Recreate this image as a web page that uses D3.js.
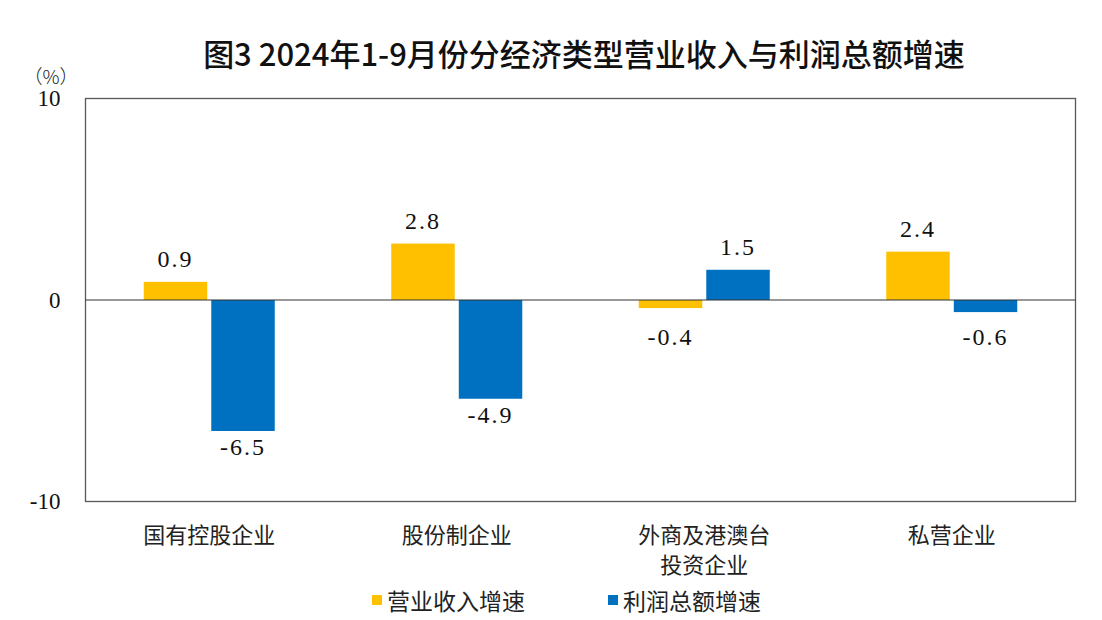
<!DOCTYPE html>
<html>
<head>
<meta charset="utf-8">
<script src="https://cdn.jsdelivr.net/npm/d3@7"></script>
<style>
html,body{margin:0;padding:0;background:#fff;}
svg{display:block;}
</style>
</head>
<body>
<svg id="chart" width="1102" height="620"></svg>
<script>
const title = "图3 2024年1-9月份分经济类型营业收入与利润总额增速";
const unitLabel = "（%）";
const categories = [["国有控股企业"], ["股份制企业"], ["外商及港澳台", "投资企业"], ["私营企业"]];
const seriesNames = ["营业收入增速", "利润总额增速"];
const revenueGrowth = [0.9, 2.8, -0.4, 2.4];
const profitGrowth = [-6.5, -4.9, 1.5, -0.6];
const yTicks = [-10, 0, 10];
const colors = ["#FFC000", "#0070C0"];

const svg = d3.select("#chart");
const L = 85.5, R = 1075.5, T = 98.5, B = 501.5;
const serif = "'Liberation Serif','Times New Roman',serif";
const cjk = "'Noto Sans CJK SC','Noto Sans',sans-serif";
const hyphen = s => s.replace(/\u2212/g, "-");

const catKeys = categories.map(c => c.join(""));
const x0 = d3.scaleBand().domain(catKeys).range([L, R]).padding(0);
const x1 = d3.scaleBand().domain(seriesNames).range([-65.5, 65.5]).paddingInner(0.06).paddingOuter(0);
const y = d3.scaleLinear().domain([-10, 10]).range([B, T]);

// title
svg.append("text").attr("x", 584).attr("y", 52)
  .attr("text-anchor", "middle").attr("dominant-baseline", "central")
  .style("font-family", cjk).style("font-size", "31px").style("font-weight", 500)
  .attr("fill", "#111").text(title);

// unit
svg.append("text").attr("x", 51).attr("y", 75)
  .attr("text-anchor", "middle").attr("dominant-baseline", "central")
  .style("font-family", cjk).style("font-size", "19px").style("font-weight", 300)
  .attr("fill", "#222")
  .text(unitLabel);

// frame
svg.append("rect").attr("x", L).attr("y", T).attr("width", R - L).attr("height", B - T)
  .attr("fill", "none").attr("stroke", "#595959").attr("stroke-width", 1.3);

// y axis labels
const yAxis = d3.axisLeft(y).tickValues(yTicks).tickSize(0).tickPadding(25)
  .tickFormat(d => hyphen(d3.format("d")(d)));
const gy = svg.append("g").attr("transform", `translate(${L},0)`).call(yAxis);
gy.select(".domain").remove();
gy.selectAll("text").style("font-family", serif).style("font-size", "23px").attr("fill", "#111");

// bars
const rows = catKeys.map((k, i) => ({ key: k, vals: [revenueGrowth[i], profitGrowth[i]] }));
const groups = svg.selectAll(".grp").data(rows).join("g")
  .attr("transform", d => `translate(${x0(d.key) + x0.bandwidth() / 2},0)`);

groups.selectAll("rect").data(d => d.vals.map((v, j) => ({ v, s: seriesNames[j], j })))
  .join("rect")
  .attr("x", d => x1(d.s))
  .attr("width", x1.bandwidth())
  .attr("y", d => y(Math.max(0, d.v)))
  .attr("height", d => Math.abs(y(d.v) - y(0)))
  .attr("fill", d => colors[d.j]);

groups.selectAll("text.lbl").data(d => d.vals.map((v, j) => ({ v, s: seriesNames[j], j })))
  .join("text").attr("class", "lbl")
  .attr("x", d => x1(d.s) + x1.bandwidth() / 2)
  .attr("y", d => d.v >= 0 ? y(d.v) - 15 : Math.max(y(d.v) + 24, y(0) + 45))
  .attr("text-anchor", "middle")
  .style("font-family", serif).style("font-size", "24px").style("letter-spacing", "2px")
  .attr("fill", "#111")
  .text(d => hyphen(d3.format(".1f")(d.v)));

// zero line
svg.append("line").attr("x1", L).attr("x2", R).attr("y1", y(0)).attr("y2", y(0))
  .attr("stroke", "#333").attr("stroke-width", 1.2);

// category labels
const cg = svg.selectAll(".cat").data(categories).join("text")
  .attr("x", (d, i) => x0(catKeys[i]) + x0.bandwidth() / 2)
  .attr("text-anchor", "middle")
  .style("font-family", cjk).style("font-size", "22px").attr("fill", "#222");
cg.selectAll("tspan").data(d => d).join("tspan")
  .attr("x", function () { return d3.select(this.parentNode).attr("x"); })
  .attr("y", (d, i) => 533 + i * 30)
  .attr("dominant-baseline", "central")
  .text(d => d);

// legend
const legendX = [372, 608];
const lg = svg.selectAll(".leg").data(seriesNames).join("g")
  .attr("transform", (d, i) => `translate(${legendX[i]},600)`);
lg.append("rect").attr("x", 0).attr("y", -5).attr("width", 10).attr("height", 10)
  .attr("fill", (d, i) => colors[i]);
lg.append("text").attr("x", 15).attr("y", 0).attr("dominant-baseline", "central")
  .style("font-family", cjk).style("font-size", "23px").attr("fill", "#222")
  .text(d => d);
</script>
</body>
</html>
